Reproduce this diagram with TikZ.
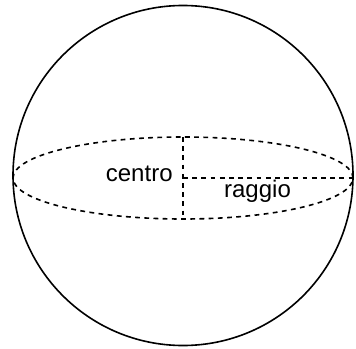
\documentclass[tikz,border=0pt]{standalone}
\usepackage{fontspec}
\setmainfont{Liberation Sans}
\usetikzlibrary{positioning}

\begin{document}
\begin{tikzpicture}[
  x=0.5pt, y=0.5pt,
  outline/.style={line width=0.8pt},
  hidden/.style={line width=0.8pt, dash pattern=on 2.4pt off 2.2pt},
  label/.style={font=\fontsize{12}{14}\selectfont, inner sep=0pt}
]
\useasboundingbox (0,0) rectangle (356,348);
% sfera
\coordinate (centre) at (183,172.5);
\coordinate (mid) at (183,170);
\draw[outline] (centre) circle (170);
% equatore
\draw[hidden] (mid) ellipse (170 and 41);
\coordinate (top) at (183,211);
\coordinate (bottom) at (183,129);
\coordinate (edge) at (353,170);
\draw[hidden] (top) -- (bottom);
\draw[hidden] (mid) -- (edge);
\node[label, anchor=east] (centro) at (173,174) {centro};
\node[label] (raggio) at (257.5,157) {raggio};
\end{tikzpicture}
\end{document}
